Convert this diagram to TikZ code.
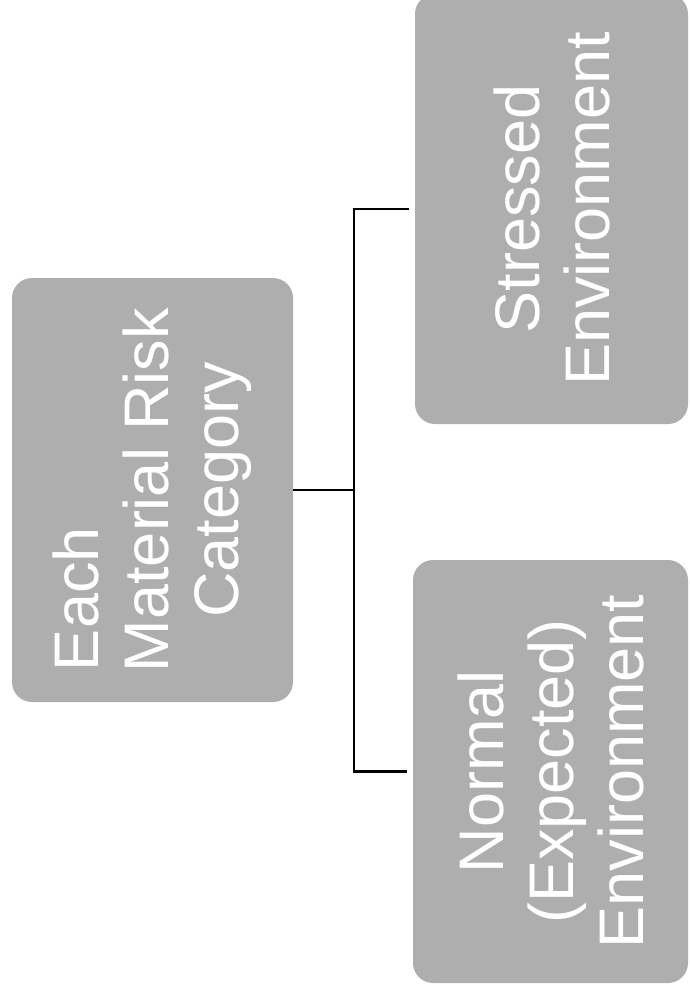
\documentclass[tikz,border=0pt]{standalone}
\usepackage{fontspec}
\setmainfont{Liberation Sans}
\definecolor{boxgray}{RGB}{174,174,174}
\begin{document}
\begin{tikzpicture}[x=1pt,y=-1pt,
  catbox/.style={rotate=90, fill=boxgray, rounded corners=20pt, inner sep=0pt,
    text=white, align=center, font=\fontsize{63}{70}\selectfont},
  conn/.style={draw=black, line width=2.6pt}]
\useasboundingbox (0,0) rectangle (689,990);
\node[catbox, minimum width=424pt, minimum height=281pt] (cat) at (152.5,490) {\makebox[362pt][l]{Each}\\Material Risk\\Category};
\node[catbox, minimum width=430pt, minimum height=273pt] (stressed) at (551.5,209) {Stressed\\Environment};
\node[catbox, minimum width=423pt, minimum height=275pt] (normal) at (550.5,771.5) {Normal\\(Expected)\\Environment};
\coordinate (jn) at (354,490);
\draw[conn] (cat.south) -- (jn);
\draw[conn, shorten <=6pt] (stressed.north) -| (jn);
\draw[conn, shorten <=6pt] (normal.north) -| (jn);
\end{tikzpicture}
\end{document}
